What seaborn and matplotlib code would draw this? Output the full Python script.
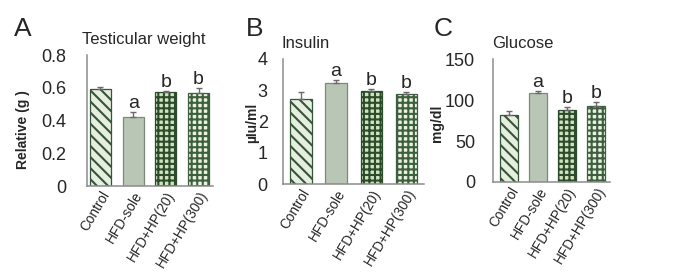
import numpy as np
import pandas as pd
import seaborn as sns
import matplotlib.pyplot as plt

# data
groups = ['Control', 'HFD-sole', 'HFD+HP(20)', 'HFD+HP(300)']
sig = ['', 'a', 'b', 'b']

testis_mean = [0.59, 0.42, 0.572, 0.566]
testis_err = [0.013, 0.034, 0.008, 0.031]

insulin_mean = [2.73, 3.23, 2.98, 2.88]
insulin_err = [0.20, 0.10, 0.05, 0.05]

glucose_mean = [82, 108.4, 88, 93.3]
glucose_err = [4.8, 3.0, 3.5, 4.0]

sns.set_style('white')
plt.rcParams['font.family'] = ['Liberation Sans', 'DejaVu Sans']
plt.rcParams['hatch.linewidth'] = 1.5

# bar styles: face, edge(=hatch colour), hatch
faces = ['#e6eee0', '#b9c6b5', '#cfe3bd', '#e8f2dd']
edges = ['#35543a', '#7b8a78', '#2c4a2c', '#3d5f40']
hatches = ['\\\\\\', '', '+++', '+++']

fig = plt.figure(figsize=(6.91, 2.75), dpi=100)

panels = [
    # letter, title, ylabel, means, errs, axes rect, ylim, yticks, xlim, width, title x, label x, label y, pad
    ('A', 'Testicular weight', 'Relative (g )', testis_mean, testis_err,
     [0.1259, 0.3236, 0.1823, 0.4764], (0, 0.8), [0, 0.2, 0.4, 0.6, 0.8], (-0.41, 3.44), 0.64, -0.04, -0.45, 0.43, 11),
    ('B', 'Insulin', 'µIu/ml', insulin_mean, insulin_err,
     [0.4096, 0.3309, 0.2040, 0.4546], (0, 4), [0, 1, 2, 3, 4], (-0.51, 3.5), 0.61, -0.01, -0.17, 0.49, 7),
    ('C', 'Glucose', 'mg/dl', glucose_mean, glucose_err,
     [0.7135, 0.3382, 0.1693, 0.4462], (0, 150), [0, 50, 100, 150], (-0.55, 3.48), 0.64, -0.01, -0.42, 0.48, 9),
]
letter_x = [0.02, 0.356, 0.628]

for (letter, title, ylab, means, errs, rect, ylim, yticks, xlim, w, tx, lx, ly, pad), lxf in zip(panels, letter_x):
    ax = fig.add_axes(rect)
    df = pd.DataFrame({'group': groups, 'value': means})
    sns.barplot(data=df, x='group', y='value', hue='group', palette=faces,
                legend=False, errorbar=None, width=w, saturation=1, ax=ax)
    for p, fc, ec, h in zip(ax.patches, faces, edges, hatches):
        p.set_facecolor(fc)
        p.set_edgecolor(ec)
        p.set_hatch(h)
        p.set_linewidth(0.9)
    xs = np.arange(len(groups))
    ax.errorbar(xs, means, yerr=[np.zeros(len(errs)), errs], fmt='none',
                ecolor='#6a6a6a', elinewidth=1.0, capsize=2.5, capthick=1.0)
    for x, m, e, s in zip(xs, means, errs, sig):
        if s:
            ax.text(x, m + e, s, ha='center', va='bottom', fontsize=14)
    ax.set_ylim(*ylim)
    ax.set_xlim(*xlim)
    ax.set_yticks(yticks)
    ax.set_yticklabels([f'{t:g}' for t in yticks])
    ax.set_xlabel('')
    ax.set_ylabel(ylab, fontsize=10, fontweight='bold')
    ax.yaxis.set_label_coords(lx, ly)
    ax.set_xticks(xs)
    ax.set_xticklabels(groups, rotation=59, ha='right', rotation_mode='anchor', fontsize=9.8)
    ax.tick_params(axis='x', length=0, pad=2)
    ax.tick_params(axis='y', direction='inout', length=8, width=1.0, color='#808080',
                   labelsize=13, pad=pad)
    for side in ['top', 'right']:
        ax.spines[side].set_visible(False)
    for side in ['left', 'bottom']:
        ax.spines[side].set_color('#8c8c8c')
        ax.spines[side].set_linewidth(1.1)
    ax.set_title(title, loc='left', x=tx, fontsize=12, pad=8)
    fig.text(lxf, 0.94, letter, fontsize=19, va='top', ha='left')

fig.savefig('out.png', dpi=100)
